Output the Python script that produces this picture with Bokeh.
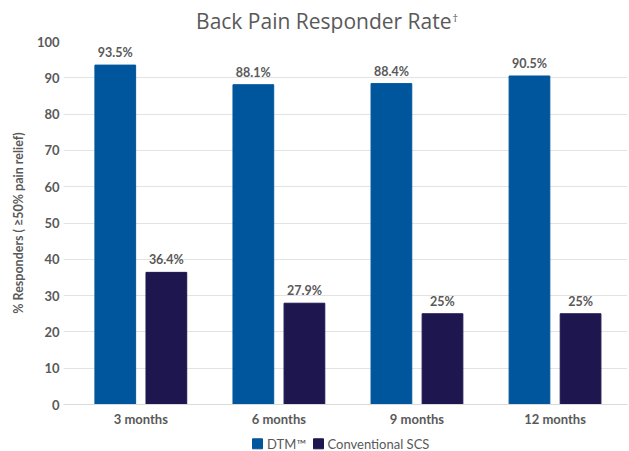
from bokeh.plotting import figure
from bokeh.layouts import column
from bokeh.models import ColumnDataSource, FixedTicker, Range1d, LabelSet
from bokeh.core.properties import value
from bokeh.embed import file_html
from bokeh.resources import INLINE

# Responder rates by follow-up time point
periods = ["3 months", "6 months", "9 months", "12 months"]
dtm = [93.5, 88.1, 88.4, 90.5]
conventional = [36.4, 27.9, 25.0, 25.0]
dtm_labels = ["93.5%", "88.1%", "88.4%", "90.5%"]
conv_labels = ["36.4%", "27.9%", "25%", "25%"]
y_ticks = [0, 10, 20, 30, 40, 50, 60, 70, 80, 90, 100]
series_names = ["DTM\u2122", "Conventional SCS"]
title_text = "Back Pain Responder Rate"
title_mark = "\u2020"

DTM_COLOR = "#00569C"
CONV_COLOR = "#1E164F"
TEXT_COLOR = "#595959"
FONT = "Lato"
W = 629
TITLE_H = 33
MAIN_H = 396
LEGEND_H = 22


def strip(height):
    """A blank band whose data units are screen pixels."""
    f = figure(width=W, height=height, x_range=Range1d(0, W), y_range=Range1d(0, height),
               x_axis_type=None, y_axis_type=None, output_backend="svg",
               toolbar_location=None, min_border=0, frame_align=False)
    f.grid.visible = False
    f.outline_line_color = None
    return f


# title band
top = strip(TITLE_H)
top.text(x=[451], y=[13], text=[title_text], text_align="right", text_baseline="middle",
         text_font=value("Open Sans"), text_font_size="21px", text_color=TEXT_COLOR)
top.text(x=[452], y=[16.5], text=[title_mark], text_align="left", text_baseline="middle",
         text_font=value("Open Sans"), text_font_size="11px", text_color=TEXT_COLOR)

# main bar chart
idx = list(range(len(periods)))
offset = 0.185
bar_w = 0.295

src_dtm = ColumnDataSource(dict(x=[i - offset for i in idx], top=dtm, label=dtm_labels))
src_conv = ColumnDataSource(dict(x=[i + offset for i in idx], top=conventional, label=conv_labels))

p = figure(
    width=W, height=MAIN_H,
    x_range=Range1d(-0.56, 3.525), y_range=Range1d(0, 100),
    output_backend="svg", toolbar_location=None, frame_align=False,
    min_border_left=63, min_border_right=2, min_border_top=8, min_border_bottom=24,
)
p.outline_line_color = None
p.background_fill_color = "white"
p.border_fill_color = "white"

p.vbar(x="x", top="top", width=bar_w, bottom=0, source=src_dtm, color=DTM_COLOR)
p.vbar(x="x", top="top", width=bar_w, bottom=0, source=src_conv, color=CONV_COLOR)

for src in (src_dtm, src_conv):
    p.add_layout(LabelSet(
        x="x", y="top", text="label", source=src, y_offset=5,
        text_align="center", text_baseline="bottom",
        text_font=value(FONT), text_font_style="bold", text_font_size="12.5px",
        text_color=TEXT_COLOR,
    ))

p.xaxis.ticker = FixedTicker(ticks=idx)
p.xaxis.major_label_overrides = {i: s for i, s in zip(idx, periods)}
p.xaxis.major_label_text_font = FONT
p.xaxis.major_label_text_font_style = "bold"
p.xaxis.major_label_text_font_size = "13px"
p.xaxis.major_label_text_color = TEXT_COLOR
p.xaxis.major_label_standoff = 6
p.xaxis.axis_line_color = "#D9D9D9"
p.xaxis.major_tick_line_color = None
p.xaxis.minor_tick_line_color = None
p.xaxis.major_tick_out = 0
p.xaxis.major_tick_in = 0

p.yaxis.ticker = FixedTicker(ticks=y_ticks)
p.yaxis.major_label_text_font = FONT
p.yaxis.major_label_text_font_style = "bold"
p.yaxis.major_label_text_font_size = "13px"
p.yaxis.major_label_text_color = TEXT_COLOR
p.yaxis.major_label_standoff = 4
p.yaxis.axis_line_color = None
p.yaxis.major_tick_line_color = None
p.yaxis.minor_tick_line_color = None
p.yaxis.major_tick_out = 0
p.yaxis.major_tick_in = 0
p.yaxis.axis_label = "% Responders ( \u226550% pain relief)"
p.yaxis.axis_label_text_font = FONT
p.yaxis.axis_label_text_font_style = "bold"
p.yaxis.axis_label_text_font_size = "12.5px"
p.yaxis.axis_label_text_color = TEXT_COLOR
p.yaxis.axis_label_standoff = 8

p.xgrid.grid_line_color = None
p.ygrid.grid_line_color = "#E3E3E3"
p.ygrid.grid_line_width = 1

# legend band
leg = strip(LEGEND_H)
legend_colors = [DTM_COLOR, CONV_COLOR]
swatch_x = [257, 318]
label_x = [266.5, 327]
leg.rect(x=swatch_x, y=7.7, width=10, height=10, color=legend_colors)
leg.text(x=label_x, y=7.5, text=series_names, text_baseline="middle",
         text_font=value(FONT), text_font_size="13px", text_color=TEXT_COLOR)

open("out.html", "w").write(file_html(column(top, p, leg, spacing=0), INLINE))
